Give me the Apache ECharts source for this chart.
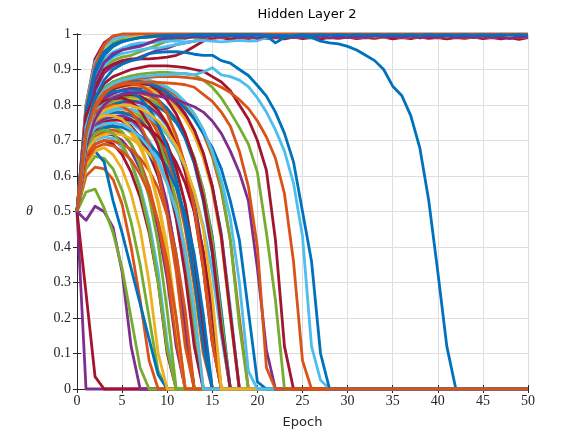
<!DOCTYPE html>
<html><head><meta charset="utf-8">
<script src="https://cdn.jsdelivr.net/npm/echarts@6/dist/echarts.min.js"></script>
<style>html,body{margin:0;padding:0;background:#fff}#c{width:584px;height:438px}</style>
</head><body><div id="c"></div>
<script>
// ---- axis ticks ----
const xTicks = [0,5,10,15,20,25,30,35,40,45,50];
const yTicks = [0,0.1,0.2,0.3,0.4,0.5,0.6,0.7,0.8,0.9,1];

// ---- curves that rise to 1 (values at epoch 0,1,2,...) ----
const u01 = [0.5,0.79,0.91,0.97,0.995,1];
const u02 = [0.5,0.8,0.93,0.975,0.993,0.997];
const u03 = [0.5,0.78,0.91,0.96,0.985,0.993,0.996];
const u04 = [0.5,0.77,0.9,0.95,0.975,0.985,0.99,0.993];
const u05 = [0.5,0.75,0.87,0.92,0.945,0.955,0.96,0.965,0.975,0.985,0.99,
  0.992,0.988,0.993,0.99,0.994,0.99,0.995,0.99,0.993,0.988,
  0.994,0.99,0.995,0.99,0.993,0.99,0.994,0.989,0.992,0.99,
  0.993,0.99,0.995,0.991,0.993,0.99,0.994,0.989,0.993,0.99,
  0.995,0.99,0.993,0.99,0.994,0.99,0.992,0.987,0.993,0.99];
const u06 = [0.5,0.76,0.88,0.93,0.95,0.96,0.97,0.975,0.975,0.978,0.98,
  0.98,0.978,0.98,0.982,0.98,0.978,0.98,0.982,0.98,0.981,
  0.99,0.995,0.993,0.996,0.992,0.995,0.993,0.996,0.992,0.995,
  0.993,0.996,0.992,0.994,0.996,0.993,0.995,0.992,0.996,0.994,
  0.992,0.995,0.993,0.996,0.992,0.995,0.994,0.992,0.996,0.994];
const u07 = [0.5,0.74,0.85,0.9,0.915,0.925,0.93,0.93,0.93,0.932,0.935,
  0.94,0.95,0.965,0.98,0.988,0.99,0.985,0.99,0.987,0.991,
  0.988,0.99,0.986,0.991,0.987,0.99,0.986,0.99,0.988,0.991,
  0.987,0.99,0.988,0.991,0.986,0.99,0.987,0.991,0.988,0.99,
  0.986,0.99,0.988,0.991,0.987,0.99,0.986,0.99,0.985,0.99];
const u08 = [0.5,0.75,0.87,0.92,0.94,0.955,0.965,0.97,0.975,0.98,0.985,0.99,0.993,0.995];
const u09 = [0.5,0.72,0.84,0.89,0.91,0.92,0.925,0.935,0.945,0.955,0.96,0.97,0.975,0.98,0.985,0.99,0.993];
const u10 = [0.5,0.73,0.86,0.91,0.935,0.945,0.95,0.955,0.96,0.96,0.965,0.97,0.975,0.98,0.985,0.99,0.992];
const u12 = [0.5,0.79,0.92,0.97,0.99,0.997];
const u13 = [0.5,0.76,0.89,0.94,0.965,0.98,0.99,0.993,0.99,0.994,0.99,
  0.995,0.99,0.993,0.989,0.994,0.99,0.995,0.991,0.993,0.99,
  0.994,0.99,0.995,0.99,0.993,0.989,0.994,0.99,0.995,0.991,
  0.993,0.99,0.994,0.99,0.995,0.99,0.993,0.989,0.994,0.99,
  0.995,0.991,0.993,0.99,0.994,0.99,0.995,0.99,0.993,0.99];
const u14 = [0.5,0.74,0.86,0.905,0.925,0.935,0.94,0.95,0.96,0.97,0.98,0.985,0.99];
const u15 = [0.5,0.8,0.92,0.965,0.985,0.993,0.996];
const uA  = [0.5,0.77,0.89,0.94,0.965,0.978,0.985,0.99,0.992,0.994,0.995,
  0.996,0.997,0.997,0.998,0.997,0.998,0.997,0.998,0.997,0.998,
  0.997,0.996,0.996,0.995,0.995,0.99,0.98,0.975,0.972,0.965,
  0.955,0.94,0.925,0.9,0.853,0.827,0.77,0.68,0.53,0.33,
  0.12,0];
const u11 = [0.5,0.78,0.9,0.95,0.97,0.98,0.985,0.99,0.993,0.995,0.996,
  0.997,0.996,0.998,0.997,0.998,0.996,0.998,0.997,0.998,0.996,
  0.995,0.975,0.99,0.996,0.998,0.997,0.998,0.997,0.998,0.997,
  0.998,0.997,0.998,0.997,0.998,0.997,0.998,0.997,0.998,0.997,
  0.998,0.997,0.998,0.997,0.998,0.997,0.998,0.997,0.998,0.997];

// ---- curves that fall to 0 (values at epoch 0,1,2,...) ----
const s01 = [0.5,0];
const s02 = [0.5,0.27,0.035,0];
const s03 = [0.5,0.475,0.515,0.5,0.455,0.33,0.12,0];
const s04 = [0.5,0.555,0.563,0.51,0.44,0.34,0.2,0.06,0];
const c01 = [0.5,0.6,0.625,0.62,0.59,0.52,0.4,0.25,0.08,0];
const c02 = [0.5,0.62,0.655,0.65,0.62,0.56,0.47,0.35,0.2,0.05,0];
const c03 = [0.5,0.64,0.67,0.64,0.53,0.44,0.34,0.24,0.14,0.04,0];
const c04 = [0.5,0.63,0.67,0.68,0.66,0.62,0.55,0.45,0.3,0.1,0];
const c05 = [0.5,0.65,0.69,0.7,0.69,0.66,0.61,0.54,0.44,0.3,0.1,0];
const c06 = [0.5,0.66,0.7,0.71,0.705,0.68,0.64,0.57,0.47,0.33,0.13,0];
const c07 = [0.5,0.66,0.71,0.72,0.715,0.7,0.67,0.62,0.55,0.45,0.31,0.12,0];
const c08 = [0.5,0.67,0.71,0.725,0.73,0.72,0.69,0.64,0.57,0.47,0.33,0.14,0];
const c09 = [0.5,0.68,0.72,0.735,0.74,0.725,0.69,0.63,0.54,0.41,0.22,0];
const c10 = [0.5,0.68,0.725,0.74,0.745,0.74,0.725,0.7,0.66,0.6,0.51,0.38,0.18,0];
const c11 = [0.5,0.69,0.73,0.745,0.75,0.74,0.72,0.68,0.62,0.53,0.4,0.2,0];
const c12 = [0.5,0.7,0.74,0.755,0.76,0.755,0.74,0.71,0.67,0.6,0.5,0.36,0.16,0];
const c13 = [0.5,0.7,0.745,0.76,0.765,0.76,0.75,0.73,0.7,0.65,0.58,0.48,0.34,0.15,0];
const c14 = [0.5,0.7,0.745,0.76,0.768,0.77,0.76,0.735,0.69,0.62,0.52,0.37,0.17,0];
const c15 = [0.5,0.71,0.75,0.77,0.778,0.78,0.775,0.76,0.73,0.69,0.62,0.52,0.38,0.18,0];
const c16 = [0.5,0.72,0.76,0.775,0.78,0.778,0.77,0.755,0.73,0.7,0.65,0.58,0.48,0.34,0.15,0];
const c17 = [0.5,0.72,0.76,0.78,0.788,0.79,0.785,0.77,0.745,0.7,0.63,0.53,0.39,0.19,0];
const c18 = [0.5,0.71,0.755,0.775,0.785,0.79,0.787,0.778,0.76,0.73,0.69,0.62,0.52,0.37,0.17,0];
const c19 = [0.5,0.72,0.765,0.785,0.795,0.8,0.798,0.79,0.77,0.74,0.69,0.62,0.52,0.37,0.16,0];
const c20 = [0.5,0.71,0.76,0.78,0.792,0.798,0.8,0.797,0.787,0.77,0.74,0.7,0.63,0.53,0.38,0.17,0];
const c21 = [0.5,0.73,0.775,0.795,0.805,0.81,0.805,0.79,0.765,0.72,0.66,0.57,0.45,0.29,0.1,0];
const c22 = [0.5,0.72,0.77,0.79,0.802,0.808,0.81,0.806,0.795,0.775,0.745,0.7,0.63,0.53,0.38,0.16,0];
const c23 = [0.5,0.72,0.77,0.79,0.803,0.81,0.815,0.813,0.807,0.795,0.777,0.75,0.71,0.65,0.56,0.43,0.22,0];
const c24 = [0.5,0.73,0.78,0.8,0.81,0.817,0.82,0.816,0.805,0.785,0.75,0.7,0.62,0.51,0.35,0.14,0];
const c25 = [0.5,0.73,0.78,0.8,0.812,0.82,0.825,0.823,0.816,0.803,0.785,0.755,0.715,0.65,0.56,0.42,0.2,0];
const c26 = [0.5,0.74,0.79,0.81,0.82,0.827,0.83,0.825,0.81,0.785,0.745,0.69,0.61,0.5,0.34,0.13,0];
const c27 = [0.5,0.74,0.79,0.812,0.824,0.831,0.835,0.833,0.826,0.812,0.79,0.76,0.71,0.64,0.54,0.39,0.17,0];
const c28 = [0.5,0.73,0.785,0.808,0.822,0.831,0.837,0.84,0.838,0.83,0.816,0.795,0.765,0.72,0.66,0.57,0.44,0.23,0];
const c29 = [0.5,0.75,0.8,0.822,0.835,0.842,0.845,0.842,0.832,0.815,0.79,0.755,0.705,0.635,0.53,0.38,0.16,0];
const c30 = [0.5,0.74,0.795,0.818,0.832,0.842,0.848,0.85,0.847,0.838,0.823,0.8,0.77,0.725,0.66,0.57,0.43,0.21,0];
const c31 = [0.5,0.76,0.81,0.832,0.845,0.852,0.855,0.853,0.846,0.834,0.816,0.792,0.76,0.715,0.65,0.56,0.42,0.2,0];
const c32 = [0.5,0.75,0.805,0.83,0.845,0.853,0.858,0.86,0.857,0.848,0.832,0.81,0.775,0.73,0.665,0.57,0.43,0.21,0];
const c33 = [0.5,0.75,0.81,0.835,0.85,0.858,0.863,0.865,0.863,0.856,0.844,0.826,0.8,0.765,0.72,0.655,0.56,0.42,0.2,0];
const c34 = [0.5,0.76,0.815,0.84,0.855,0.863,0.868,0.87,0.868,0.862,0.85,0.833,0.808,0.775,0.73,0.665,0.57,0.42,0.18,0];
const c35 = [0.5,0.72,0.81,0.85,0.865,0.87,0.87,0.865,0.86,0.85,0.835,0.815,0.79,0.76,0.72,0.68,0.62,0.53,0.42,0.22,0.02,0];
const c36 = [0.5,0.66,0.69,0.7,0.698,0.69,0.675,0.65,0.615,0.565,0.49,0.38,0.22,0];
const c37 = [0.5,0.67,0.705,0.717,0.72,0.716,0.705,0.688,0.663,0.628,0.578,0.505,0.4,0.24,0];
const c38 = [0.5,0.68,0.72,0.735,0.74,0.737,0.728,0.713,0.692,0.663,0.623,0.567,0.49,0.38,0.21,0];
const c39 = [0.5,0.69,0.73,0.748,0.756,0.76,0.757,0.748,0.733,0.711,0.68,0.638,0.58,0.5,0.39,0.22,0];
const c40 = [0.5,0.71,0.755,0.775,0.785,0.79,0.788,0.78,0.766,0.745,0.716,0.677,0.625,0.555,0.46,0.33,0.15,0];
const c41 = [0.5,0.74,0.78,0.795,0.8,0.797,0.78,0.745,0.69,0.61,0.49,0.33,0.12,0];
const c42 = [0.5,0.75,0.795,0.812,0.818,0.82,0.81,0.785,0.745,0.685,0.6,0.48,0.32,0.12,0];
const c43 = [0.5,0.72,0.76,0.77,0.77,0.76,0.735,0.69,0.62,0.52,0.38,0.19,0];
const c44 = [0.5,0.76,0.81,0.83,0.838,0.84,0.835,0.82,0.79,0.745,0.68,0.59,0.47,0.31,0.12,0];
const c45 = [0.5,0.77,0.82,0.84,0.852,0.858,0.86,0.855,0.84,0.815,0.775,0.715,0.63,0.51,0.34,0.13,0];
const c46 = [0.5,0.77,0.825,0.848,0.86,0.867,0.87,0.867,0.858,0.84,0.813,0.775,0.72,0.645,0.54,0.39,0.17,0];
const c47 = [0.5,0.68,0.72,0.73,0.72,0.69,0.64,0.56,0.45,0.3,0.11,0];
const c48 = [0.5,0.64,0.68,0.69,0.685,0.67,0.645,0.605,0.55,0.47,0.36,0.2,0];
const c49 = [0.5,0.7,0.735,0.747,0.75,0.745,0.732,0.71,0.68,0.64,0.58,0.5,0.39,0.22,0];
const c50 = [0.5,0.72,0.765,0.785,0.795,0.8,0.798,0.79,0.776,0.755,0.725,0.685,0.63,0.555,0.45,0.26,0];
const cJ  = [0.5,0.74,0.82,0.85,0.865,0.872,0.875,0.874,0.87,0.862,0.85,0.832,0.808,0.775,0.73,0.67,0.59,0.48,0.3,0.05,0];
const cG  = [0.5,0.68,0.76,0.8,0.82,0.83,0.835,0.835,0.83,0.825,0.82,
  0.815,0.805,0.795,0.78,0.755,0.72,0.67,0.61,0.53,0.34,0.11,0];
const cF  = [0.5,0.7,0.8,0.845,0.865,0.875,0.882,0.887,0.89,0.892,0.892,
  0.89,0.888,0.885,0.87,0.85,0.82,0.78,0.737,0.69,0.61,0.44,0.25,0];
const cE  = [0.5,0.72,0.82,0.86,0.88,0.89,0.9,0.905,0.91,0.91,0.91,
  0.908,0.905,0.9,0.895,0.88,0.865,0.84,0.8,0.76,0.7,0.616,0.42,0.12,0];
const cD  = [0.5,0.7,0.79,0.83,0.855,0.865,0.872,0.876,0.878,0.88,0.88,
  0.88,0.878,0.875,0.87,0.862,0.85,0.835,0.815,0.79,0.755,0.71,0.65,0.55,0.36,0.08,0];
const cC  = [0.5,0.7,0.8,0.84,0.86,0.87,0.875,0.88,0.882,0.885,0.885,
  0.888,0.888,0.885,0.893,0.905,0.885,0.88,0.87,0.852,0.82,
  0.78,0.73,0.67,0.58,0.43,0.12,0.025,0];
const cB  = [0.5,0.72,0.82,0.87,0.9,0.915,0.925,0.93,0.945,0.948,0.95,
  0.95,0.948,0.943,0.94,0.94,0.925,0.918,0.9,0.883,0.855,
  0.825,0.78,0.72,0.64,0.5,0.36,0.1,0];
const cH  = [0.5,0.72,0.8,0.835,0.85,0.858,0.862,0.864,0.865,0.864,0.862,
  0.86,0.857,0.85,0.83,0.81,0.78,0.74,0.67,0.57,0.4,0.06,0];

// ---- colours (MATLAB default order) ----
const COL = {B:'#0072BD', O:'#D95319', Y:'#EDB120', P:'#7E2F8E', G:'#77AC30', L:'#4DBEEE', R:'#A2142F'};

// drawing order: rising curves first, then falling ones
const curves = [
  [u09,'P'],[u14,'G'],[u10,'L'],[u07,'R'],[u08,'B'],[u04,'G'],[u03,'Y'],[u02,'R'],
  [u12,'O'],[u15,'L'],[u01,'O'],[u06,'L'],[u13,'Y'],[u05,'P'],[uA,'B'],[u11,'B'],
  [s01,'P'],[s02,'R'],[s03,'P'],[s04,'G'],
  [c01,'O'],[c02,'G'],[c03,'B'],[c04,'Y'],[c05,'R'],[c06,'L'],[c07,'P'],[c08,'O'],
  [c09,'G'],[c10,'B'],[c11,'Y'],[c12,'R'],[c13,'L'],[c14,'P'],[c15,'O'],[c16,'B'],
  [c17,'G'],[c18,'Y'],[c19,'R'],[c20,'L'],[c21,'O'],[c22,'P'],[c23,'B'],[c24,'Y'],
  [c25,'G'],[c26,'R'],[c27,'O'],[c28,'L'],[c29,'B'],[c30,'P'],[c31,'Y'],[c32,'R'],
  [c33,'O'],[c34,'G'],[c36,'O'],[c37,'Y'],[c38,'B'],[c39,'R'],[c40,'L'],[c41,'O'],
  [c42,'R'],[c43,'Y'],[c44,'B'],[c45,'O'],[c46,'R'],[c47,'G'],[c48,'O'],[c49,'L'],
  [c50,'Y'],[c35,'B'],[cJ,'L'],[cG,'P'],[cF,'G'],[cE,'R'],[cD,'O'],[cC,'L'],[cB,'B'],[cH,'O']
];

function toData(vals, extend) {
  const d = vals.map((v, i) => [i, v]);
  if (extend && vals.length - 1 < 50) d.push([50, vals[vals.length - 1]]);
  return d;
}

const series = curves.map(([vals, c]) => ({
  type: 'line',
  data: toData(vals, vals !== uA),
  showSymbol: false,
  symbol: 'none',
  clip: false,
  silent: true,
  lineStyle: { color: COL[c], width: 2.8, join: 'round' },
  itemStyle: { color: COL[c] }
}));

const serif = 'Liberation Serif';
const sans = 'DejaVu Sans';
const axisCommon = {
  type: 'value',
  axisLine: { show: true, lineStyle: { color: '#262626', width: 1 } },
  axisTick: { show: true, inside: true, length: 4, lineStyle: { color: '#262626' } },
};

const chart = echarts.init(document.getElementById('c'), null, { renderer: 'canvas' });
chart.setOption({
  animation: false,
  backgroundColor: '#ffffff',
  title: {
    text: 'Hidden Layer 2', left: 302, top: 3, textAlign: 'center',
    textStyle: { fontFamily: sans, fontSize: 13, fontWeight: 'normal', color: '#000' }
  },
  grid: { left: 77, right: 56, top: 34, bottom: 49, containLabel: false },
  xAxis: [
    Object.assign({}, axisCommon, {
      min: xTicks[0], max: xTicks[xTicks.length - 1], interval: 5, position: 'bottom',
      splitLine: { show: true, lineStyle: { color: '#dedede', width: 1 } },
      axisLabel: { fontFamily: serif, fontSize: 14, color: '#262626', margin: 5 },
      name: 'Epoch', nameLocation: 'middle', nameGap: 27,
      nameTextStyle: { fontFamily: sans, fontSize: 13, color: '#262626' }
    }),
    Object.assign({}, axisCommon, {
      min: xTicks[0], max: xTicks[xTicks.length - 1], interval: 5, position: 'top',
      splitLine: { show: false }, axisLabel: { show: false }
    })
  ],
  yAxis: [
    Object.assign({}, axisCommon, {
      min: yTicks[0], max: yTicks[yTicks.length - 1], interval: 0.1, position: 'left',
      splitLine: { show: true, lineStyle: { color: '#dedede', width: 1 } },
      axisLabel: { fontFamily: serif, fontSize: 14, color: '#262626', margin: 6,
        formatter: v => String(Math.round(v * 10) / 10) },
      name: 'θ', nameLocation: 'middle', nameGap: 44, nameRotate: 0,
      nameTextStyle: { fontFamily: serif, fontStyle: 'italic', fontSize: 14, color: '#262626' }
    }),
    Object.assign({}, axisCommon, {
      min: yTicks[0], max: yTicks[yTicks.length - 1], interval: 0.1, position: 'right',
      splitLine: { show: false }, axisLabel: { show: false }
    })
  ],
  series: series
});
</script>
</body></html>
